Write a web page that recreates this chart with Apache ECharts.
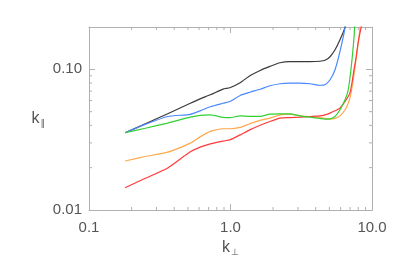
<!DOCTYPE html>
<html>
<head>
<meta charset="utf-8">
<script src="https://cdn.jsdelivr.net/npm/echarts@6/dist/echarts.min.js"></script>
<style>html,body{margin:0;padding:0;background:#fff;}#c{width:399px;height:266px;}</style>
</head>
<body>
<div id="c"></div>
<script>
// k_perp sample positions (shared by all curves)
const kPerp = [0.18, 0.25, 0.36, 0.52, 0.61, 0.72, 0.885, 0.99, 1.17, 1.37, 1.62, 1.90, 2.24, 2.63, 3.10, 3.65, 4.29, 4.66, 5.05, 5.48, 5.94, 6.45, 6.77, 6.99, 7.22, 7.46, 7.71, 7.96, 8.23, 8.50];
// k_par values per curve (values above the axis top leave the plot)
const blackK = [0.0354, 0.0410, 0.0483, 0.0574, 0.0617, 0.0659, 0.0724, 0.0740, 0.0803, 0.0900, 0.0982, 0.1049, 0.1114, 0.1133, 0.1133, 0.1133, 0.1142, 0.1161, 0.1229, 0.1379, 0.1625, 0.1994, 0.3];
const blueK = [0.0354, 0.0406, 0.0462, 0.0479, 0.0507, 0.0542, 0.0574, 0.0591, 0.0652, 0.0687, 0.0722, 0.0764, 0.0790, 0.0799, 0.0799, 0.0790, 0.0771, 0.0777, 0.0843, 0.0994, 0.1341, 0.1978, 0.3];
const greenK = [0.0354, 0.0381, 0.0415, 0.0457, 0.0471, 0.0475, 0.0456, 0.0454, 0.0467, 0.0463, 0.0463, 0.0480, 0.0483, 0.0483, 0.0467, 0.0457, 0.0447, 0.0443, 0.0445, 0.0462, 0.0516, 0.0607, 0.0704, 0.0871, 0.1170, 0.1680, 0.3];
const orangeK = [0.0223, 0.0240, 0.0258, 0.0299, 0.0331, 0.0362, 0.0378, 0.0378, 0.0387, 0.0410, 0.0434, 0.0450, 0.0475, 0.0480, 0.0467, 0.0462, 0.0454, 0.0448, 0.0443, 0.0448, 0.0467, 0.0516, 0.0569, 0.0628, 0.0740, 0.0915, 0.1170, 0.1497, 0.1978, 0.3];
const redK = [0.0144, 0.0168, 0.0199, 0.0259, 0.0280, 0.0295, 0.0309, 0.0315, 0.0342, 0.0371, 0.0400, 0.0426, 0.0450, 0.0454, 0.0457, 0.0462, 0.0467, 0.0475, 0.0488, 0.0507, 0.0530, 0.0591, 0.0638, 0.0681, 0.0803, 0.0994, 0.1209, 0.1522, 0.1823, 0.2112];

const xRange = [0.1, 10];
const yRange = [0.01, 0.2];
const xTickLabels = {'-1': '0.1', '0': '1.0', '1': '10.0'};
const yTickLabels = {'-2': '0.01', '-1': '0.10'};
const xMinor = [0.2, 0.3, 0.4, 0.5, 0.6, 0.7, 0.8, 0.9, 2, 3, 4, 5, 6, 7, 8, 9];
const yMinor = [0.02, 0.03, 0.04, 0.05, 0.06, 0.07, 0.08, 0.09];

const AX = '#b0b0b0';
const TXT = '#555555';
const FONT = 'Liberation Sans';

function fmt(map) {
  return function (v) {
    const l = Math.log10(v);
    const r = Math.round(l);
    if (Math.abs(l - r) < 1e-6 && map[String(r)] !== undefined) return map[String(r)];
    return '';
  };
}
function pairs(ys) { return ys.map((y, i) => [kPerp[i], y]); }

function lineSeries(name, ys, color) {
  return {
    type: 'line', name: name, data: pairs(ys), xAxisIndex: 0, yAxisIndex: 0,
    showSymbol: false, symbol: 'none', smooth: 0.2, clip: true,
    lineStyle: { color: color, width: 1.2 }, silent: true
  };
}

const chart = echarts.init(document.getElementById('c'), null, { renderer: 'canvas' });
const baseX = {
  type: 'log', logBase: 10, min: xRange[0], max: xRange[1],
  axisLine: { show: true, onZero: false, lineStyle: { color: AX, width: 1 } },
  axisTick: { show: true, inside: true, length: 6, lineStyle: { color: AX } },
  splitLine: { show: false }, minorTick: { show: false }
};
const baseY = {
  type: 'log', logBase: 10, min: yRange[0], max: yRange[1],
  axisLine: { show: true, onZero: false, lineStyle: { color: AX, width: 1 } },
  axisTick: { show: true, inside: true, length: 6, lineStyle: { color: AX } },
  splitLine: { show: false }, minorTick: { show: false }
};

chart.setOption({
  animation: false,
  backgroundColor: '#fff',
  grid: { left: 89, right: 27, top: 27, bottom: 56, containLabel: false },
  xAxis: [
    Object.assign({}, baseX, {
      position: 'bottom',
      axisLabel: { formatter: fmt(xTickLabels), color: TXT, fontSize: 15, fontFamily: FONT, margin: 10, showMinLabel: true, showMaxLabel: true },
      name: '{k|k}{s|⊥}', nameLocation: 'middle', nameGap: 22,
      nameTextStyle: { rich: { k: { fontSize: 16, color: TXT, fontFamily: FONT }, s: { fontSize: 9, color: TXT, fontFamily: 'DejaVu Sans', padding: [10, 0, 0, 1] } } }
    }),
    Object.assign({}, baseX, { position: 'top', axisLabel: { show: false } })
  ],
  yAxis: [
    Object.assign({}, baseY, {
      position: 'left',
      axisLabel: { formatter: fmt(yTickLabels), color: TXT, fontSize: 15, fontFamily: FONT, margin: 7, showMinLabel: true, showMaxLabel: true },
      name: '{k|k}{s|∥}', nameLocation: 'middle', nameGap: 44, nameRotate: 0,
      nameTextStyle: { align: 'right', rich: { k: { fontSize: 16, color: TXT, fontFamily: FONT }, s: { fontSize: 9, color: TXT, fontFamily: 'DejaVu Sans', padding: [10, 0, 0, 1] } } }
    }),
    Object.assign({}, baseY, { position: 'right', axisLabel: { show: false } })
  ],
  series: [
    {
      type: 'custom', xAxisIndex: 0, yAxisIndex: 0, clip: false, silent: true, z: 1,
      data: xMinor.map(v => [v, yRange[0]]),
      renderItem: function (params, api) {
        const v = api.value(0);
        const b = api.coord([v, yRange[0]]);
        const t = api.coord([v, yRange[1]]);
        return { type: 'group', children: [
          { type: 'line', shape: { x1: b[0], y1: b[1], x2: b[0], y2: b[1] - 3 }, style: { stroke: AX, lineWidth: 1 } },
          { type: 'line', shape: { x1: t[0], y1: t[1], x2: t[0], y2: t[1] + 3 }, style: { stroke: AX, lineWidth: 1 } }
        ] };
      }
    },
    {
      type: 'custom', xAxisIndex: 0, yAxisIndex: 0, clip: false, silent: true, z: 1,
      data: yMinor.map(v => [xRange[0], v]),
      renderItem: function (params, api) {
        const v = api.value(1);
        const l = api.coord([xRange[0], v]);
        const r = api.coord([xRange[1], v]);
        return { type: 'group', children: [
          { type: 'line', shape: { x1: l[0], y1: l[1], x2: l[0] + 3, y2: l[1] }, style: { stroke: AX, lineWidth: 1 } },
          { type: 'line', shape: { x1: r[0], y1: r[1], x2: r[0] - 3, y2: r[1] }, style: { stroke: AX, lineWidth: 1 } }
        ] };
      }
    },
    lineSeries('black', blackK, '#3a3a3a'),
    lineSeries('blue', blueK, '#4a88ff'),
    lineSeries('orange', orangeK, '#ffa84c'),
    lineSeries('red', redK, '#ff3a3a'),
    lineSeries('green', greenK, '#33d033')
  ]
});
</script>
</body>
</html>
